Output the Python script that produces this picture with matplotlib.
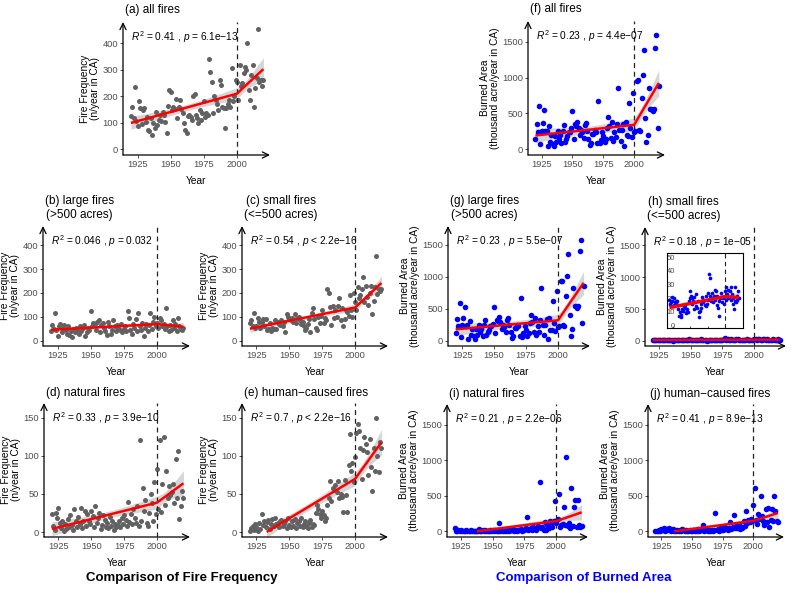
import numpy as np
import matplotlib
matplotlib.use("Agg")
import matplotlib.pyplot as plt

plt.rcParams["font.family"] = "Liberation Sans"
plt.rcParams["mathtext.fontset"] = "custom"
plt.rcParams["mathtext.rm"] = "Liberation Sans"
plt.rcParams["mathtext.it"] = "Liberation Sans:italic"

# years of record
years = np.arange(1920, 2021)

# fire frequency (n/year in CA)
all_freq = [126, 159, 117, 236, 108, 88, 180, 155, 96, 148,
            155, 104, 120, 73, 67, 117, 52, 100, 79, 142,
            92, 111, 130, 105, 140, 130, 101, 60, 163, 224,
            214, 148, 161, 150, 189, 117, 161, 186, 150, 136,
            98, 73, 60, 125, 130, 123, 111, 199, 209, 130,
            118, 98, 148, 110, 138, 180, 123, 136, 130, 340,
            293, 252, 136, 199, 186, 170, 148, 261, 243, 161,
            155, 79, 155, 170, 186, 161, 306, 180, 200, 262,
            252, 186, 318, 240, 249, 287, 312, 299, 400, 224,
            186, 280, 318, 161, 230, 268, 453, 255, 262, 239, 260]
large_freq = [40, 65, 50, 115, 45, 20, 60, 70, 35, 55,
              65, 45, 30, 60, 25, 40, 15, 50, 35, 55,
              45, 30, 60, 40, 55, 65, 20, 35, 55, 45,
              125, 60, 75, 70, 45, 80, 85, 35, 65, 75,
              55, 40, 25, 80, 60, 30, 45, 85, 60, 40,
              65, 55, 45, 70, 35, 50, 60, 40, 125, 95,
              45, 30, 70, 55, 90, 40, 115, 60, 45, 75,
              20, 55, 70, 40, 65, 115, 50, 80, 100, 60,
              75, 55, 95, 85, 60, 70, 50, 135, 60, 40,
              65, 45, 85, 55, 70, 40, 95, 60, 50, 45, 55]
small_freq = [75, 85, 60, 115, 55, 60, 95, 80, 55, 80,
              90, 60, 90, 45, 50, 75, 40, 55, 50, 85,
              50, 80, 70, 65, 85, 60, 80, 38, 110, 100,
              90, 85, 95, 80, 110, 75, 95, 100, 85, 70,
              80, 60, 45, 55, 70, 90, 35, 115, 135, 90,
              55, 45, 100, 75, 105, 130, 75, 95, 85, 215,
              200, 140, 65, 145, 95, 130, 100, 145, 180, 85,
              135, 60, 90, 130, 120, 105, 190, 130, 100, 200,
              160, 130, 225, 180, 190, 215, 265, 160, 230, 185,
              150, 200, 230, 110, 165, 225, 355, 195, 215, 210, 215]
natural_freq = [24, 8, 3, 25, 18, 31, 12, 5, 14, 2,
                10, 4, 17, 6, 22, 9, 3, 30, 14, 7,
                20, 11, 31, 5, 15, 27, 8, 24, 14, 10,
                28, 21, 6, 34, 12, 18, 25, 4, 9, 22,
                16, 7, 12, 5, 20, 8, 14, 3, 10, 6,
                9, 14, 7, 18, 11, 22, 16, 8, 39, 13,
                24, 10, 30, 18, 12, 34, 8, 120, 15, 58,
                27, 42, 12, 8, 25, 50, 38, 14, 65, 23,
                82, 30, 120, 26, 63, 125, 36, 80, 45, 60,
                48, 52, 63, 38, 96, 45, 106, 17, 34, 54, 44]
human_freq = [2, 5, 8, 3, 10, 6, 1, 12, 4, 24,
              9, 15, 6, 13, 16, 4, 11, 17, 8, 19,
              10, 12, 6, 14, 16, 8, 11, 14, 5, 18,
              9, 7, 14, 8, 17, 5, 12, 15, 8, 18,
              6, 10, 14, 8, 5, 12, 16, 7, 10, 9,
              25, 35, 30, 24, 19, 27, 22, 14, 18, 36,
              45, 67, 40, 58, 55, 62, 52, 67, 45, 50,
              46, 26, 68, 48, 26, 88, 128, 80, 90, 65,
              98, 130, 142, 132, 110, 70, 108, 125, 115, 105,
              75, 122, 85, 54, 110, 80, 150, 100, 78, 118, 110]

# burned area (thousand acre/year in CA)
all_burn = [150, 350, 240, 600, 75, 260, 370, 550, 250, 255,
            40, 330, 105, 200, 75, 40, 185, 100, 250, 150,
            200, 85, 260, 345, 105, 150, 185, 240, 245, 290,
            540, 150, 350, 320, 385, 300, 200, 270, 245, 160,
            335, 370, 260, 150, 60, 85, 210, 220, 275, 245,
            90, 680, 85, 130, 245, 185, 105, 150, 300, 445,
            320, 160, 380, 110, 245, 165, 350, 850, 270, 115,
            270, 350, 40, 375, 195, 190, 640, 300, 165, 790,
            240, 250, 950, 960, 270, 250, 720, 1040, 1380, 430,
            95, 200, 850, 560, 560, 540, 560, 1420, 1590, 300, 880]
large_burn = [130, 335, 225, 585, 60, 245, 350, 535, 235, 240,
              25, 310, 95, 185, 70, 30, 180, 95, 240, 140,
              190, 70, 245, 330, 95, 140, 175, 230, 225, 265,
              520, 130, 330, 305, 365, 290, 180, 255, 220, 145,
              320, 350, 250, 145, 50, 70, 195, 200, 255, 230,
              70, 665, 65, 115, 230, 170, 80, 115, 280, 410,
              300, 140, 355, 95, 225, 145, 325, 825, 255, 95,
              255, 345, 25, 355, 170, 170, 625, 280, 150, 770,
              215, 225, 930, 935, 245, 230, 700, 1015, 1350, 410,
              75, 185, 830, 550, 540, 510, 540, 1395, 1570, 280, 860]
small_burn = [19, 16, 17, 18, 21, 14, 20, 15, 17, 18,
              16, 18, 12, 15, 7, 10, 6, 8, 12, 11,
              11, 14, 13, 15, 9, 10, 12, 10, 18, 25,
              20, 22, 20, 16, 18, 12, 21, 17, 23, 14,
              13, 18, 10, 6, 11, 16, 13, 21, 19, 17,
              19, 15, 22, 14, 16, 19, 24, 38, 22, 35,
              18, 20, 24, 17, 22, 19, 26, 25, 15, 22,
              13, 7, 18, 20, 24, 21, 17, 20, 16, 21,
              25, 28, 19, 23, 26, 20, 21, 25, 28, 19,
              23, 16, 20, 12, 18, 28, 17, 22, 19, 25, 20]
natural_burn = [45, 8, 4, 15, 6, 20, 3, 10, 5, 15,
                4, 10, 6, 12, 3, 8, 5, 6, 10, 35,
                8, 5, 12, 3, 15, 6, 10, 4, 12, 8,
                15, 6, 20, 10, 5, 120, 8, 14, 4, 18,
                10, 6, 25, 8, 15, 12, 30, 5, 18, 10,
                20, 12, 35, 8, 15, 25, 40, 200, 18, 30,
                45, 20, 60, 35, 15, 50, 80, 690, 40, 60,
                25, 130, 15, 90, 45, 150, 120, 60, 150, 420,
                110, 170, 520, 60, 90, 100, 340, 90, 1050, 70,
                110, 40, 610, 80, 340, 440, 60, 440, 90, 60, 70]
human_burn = [5, 10, 3, 25, 8, 35, 15, 40, 6, 30,
              12, 40, 20, 8, 35, 5, 15, 10, 25, 8,
              20, 5, 30, 12, 8, 15, 4, 10, 22, 6,
              10, 25, 5, 15, 8, 30, 6, 12, 20, 95,
              8, 15, 30, 5, 20, 10, 25, 6, 15, 260,
              20, 35, 10, 45, 15, 25, 60, 30, 40, 20,
              50, 130, 35, 60, 225, 45, 80, 40, 100, 30,
              60, 40, 150, 70, 290, 110, 160, 130, 180, 150,
              370, 610, 160, 100, 250, 180, 490, 210, 140, 90,
              310, 130, 330, 60, 160, 320, 140, 490, 280, 140, 130]

stats = {
    "a": "$R^2$ = 0.41 , $p$ = 6.1e\u221213",
    "b": "$R^2$ = 0.046 , $p$ = 0.032",
    "c": "$R^2$ = 0.54 , $p$ < 2.2e\u221216",
    "d": "$R^2$ = 0.33 , $p$ = 3.9e\u221210",
    "e": "$R^2$ = 0.7 , $p$ < 2.2e\u221216",
    "f": "$R^2$ = 0.23 , $p$ = 4.4e\u221207",
    "g": "$R^2$ = 0.23 , $p$ = 5.5e\u221207",
    "h": "$R^2$ = 0.18 , $p$ = 1e\u221205",
    "i": "$R^2$ = 0.21 , $p$ = 2.2e\u221206",
    "j": "$R^2$ = 0.41 , $p$ = 8.9e\u221213",
}

W, H = 794, 593
fig = plt.figure(figsize=(W / 100, H / 100), dpi=100)

GRAY = "#616161"
BLUE = "#0000FF"
FREQ_LAB = "Fire Frequency\n(n/year in CA)"
BURN_LAB = "Burned Area\n(thousand acre/year in CA)"


def add_ax(L, R, T, B):
    return fig.add_axes([L / W, 1 - B / H, (R - L) / W, (B - T) / H])


def seg_fit(y, grid):
    # piecewise linear regression with a break in 2000
    x = years.astype(float)
    y = np.asarray(y, float)
    X = np.column_stack([np.ones_like(x), x - 2000, np.clip(x - 2000, 0, None)])
    beta, *_ = np.linalg.lstsq(X, y, rcond=None)
    res = y - X @ beta
    s2 = res @ res / (len(y) - 3)
    XtXi = np.linalg.inv(X.T @ X)
    G = np.column_stack([np.ones_like(grid), grid - 2000, np.clip(grid - 2000, 0, None)])
    fit = G @ beta
    se = np.sqrt(np.einsum("ij,jk,ik->i", G, XtXi, G) * s2)
    return fit, 1.985 * se


def draw_fit(ax, y, lw=1.8):
    grid = np.linspace(1920, 2020, 401)
    fit, ci = seg_fit(y, grid)
    ok = fit >= 0
    ax.fill_between(grid[ok], (fit - ci)[ok], (fit + ci)[ok], color="#999999",
                    alpha=0.4, lw=0, zorder=1)
    ax.plot(grid[ok], fit[ok], color="red", lw=lw, zorder=4, solid_capstyle="butt")


def panel(rect, y, color, size, ylim, yticks, title, ylabel, stat, title_dy=11):
    ax = add_ax(*rect)
    ax.set_xlim(1914, 2025)
    ax.set_ylim(*ylim)
    ax.patch.set_alpha(0)
    for s in ax.spines.values():
        s.set_visible(False)
    arrow = dict(arrowstyle="->,head_length=0.45,head_width=0.22", lw=0.9,
                 color="black", shrinkA=0, shrinkB=0)
    ax.annotate("", xy=(1, 0), xytext=(0, 0), xycoords="axes fraction",
                arrowprops=arrow, annotation_clip=False)
    ax.annotate("", xy=(0, 1), xytext=(0, 0), xycoords="axes fraction",
                arrowprops=arrow, annotation_clip=False)
    ax.set_xticks([1925, 1950, 1975, 2000])
    ax.set_yticks(yticks)
    ax.tick_params(length=2, width=0.6, color="#333333", pad=1.5,
                   labelsize=6.7, labelcolor="#4D4D4D")
    draw_fit(ax, y)
    ax.scatter(years, y, s=size, color=color, lw=0, zorder=2, clip_on=False)
    ax.axvline(2000, color="#222222", ls=(0, (4, 3)), lw=0.9, zorder=3)
    ax.annotate(stat, xy=(0, 1), xycoords="axes fraction", xytext=(8, -15),
                textcoords="offset pixels", ha="left", va="center", fontsize=7.3)
    ax.annotate(title, xy=(0, 1), xycoords="axes fraction", xytext=(2, title_dy),
                textcoords="offset pixels", ha="left", va="center", fontsize=8.5,
                multialignment="center")
    dx = -33 if ylabel == FREQ_LAB else -38
    ax.annotate(ylabel, xy=(0, 0.5), xycoords="axes fraction", xytext=(dx, 0),
                textcoords="offset pixels", ha="center", va="center", rotation=90,
                fontsize=7.3, multialignment="center", linespacing=1.05)
    ax.annotate("Year", xy=(0.5, 0), xycoords="axes fraction", xytext=(0, -26),
                textcoords="offset pixels", ha="center", va="center", fontsize=7.3)
    return ax


fy1 = ((-22, 480), [0, 100, 200, 300, 400])
fy2 = ((-6.5, 169), [0, 50, 100, 150])
by = ((-80, 1790), [0, 500, 1000, 1500])
G = (GRAY, 13)
B = (BLUE, 16)

panel((123, 270, 22, 155), all_freq, *G, *fy1, "(a) all fires", FREQ_LAB, stats["a"], 12)
panel((43, 190, 226, 346), large_freq, *G, *fy1, "(b) large fires\n(>500 acres)",
      FREQ_LAB, stats["b"], 18)
panel((242, 388, 226, 346), small_freq, *G, *fy1, "(c) small fires\n(<=500 acres)",
      FREQ_LAB, stats["c"], 18)
panel((44, 190, 403, 537), natural_freq, *G, *fy2, "(d) natural fires", FREQ_LAB,
      stats["d"], 10)
panel((242, 388, 403, 537), human_freq, *G, *fy2, "(e) human\u2212caused fires", FREQ_LAB,
      stats["e"], 10)

panel((528, 665, 21, 155), all_burn, *B, *by, "(f) all fires", BURN_LAB, stats["f"], 12)
panel((448, 590, 226, 346), large_burn, *B, *by, "(g) large fires\n(>500 acres)",
      BURN_LAB, stats["g"], 18)
panel((645, 786, 227, 346), small_burn, *B, *by, "(h) small fires\n(<=500 acres)",
      BURN_LAB, stats["h"], 18)
panel((447, 588, 404, 537), natural_burn, *B, *by, "(i) natural fires", BURN_LAB,
      stats["i"], 10)
panel((648, 784, 404, 537), human_burn, *B, *by, "(j) human\u2212caused fires", BURN_LAB,
      stats["j"], 10)

# inset of small-fire burned area
axi = add_ax(667, 743, 253, 328)
axi.set_xlim(1916.5, 2026)
axi.set_ylim(-1.7, 53)
for s in axi.spines.values():
    s.set_linewidth(0.8)
draw_fit(axi, small_burn, lw=2.4)
axi.scatter(years, small_burn, s=7, color=BLUE, lw=0, zorder=2)
axi.axvline(2000, color="#222222", ls=(0, (4, 3)), lw=0.8, zorder=3)
axi.set_xticks([1925, 1950, 1975, 2000])
axi.set_xticklabels([])
axi.set_yticks([0, 10, 20, 30, 40, 50])
axi.tick_params(axis="x", direction="in", length=1.5, width=0.5)
axi.tick_params(axis="y", direction="in", length=0, pad=-6, labelsize=5.5,
                labelcolor="#4D4D4D")

fig.text(182 / W, 1 - 578 / H, "Comparison of Fire Frequency", ha="center", va="center",
         fontsize=9.5, fontweight="bold", color="black")
fig.text(584 / W, 1 - 578 / H, "Comparison of Burned Area", ha="center", va="center",
         fontsize=9.5, fontweight="bold", color=BLUE)

fig.savefig("out.png", dpi=100)
